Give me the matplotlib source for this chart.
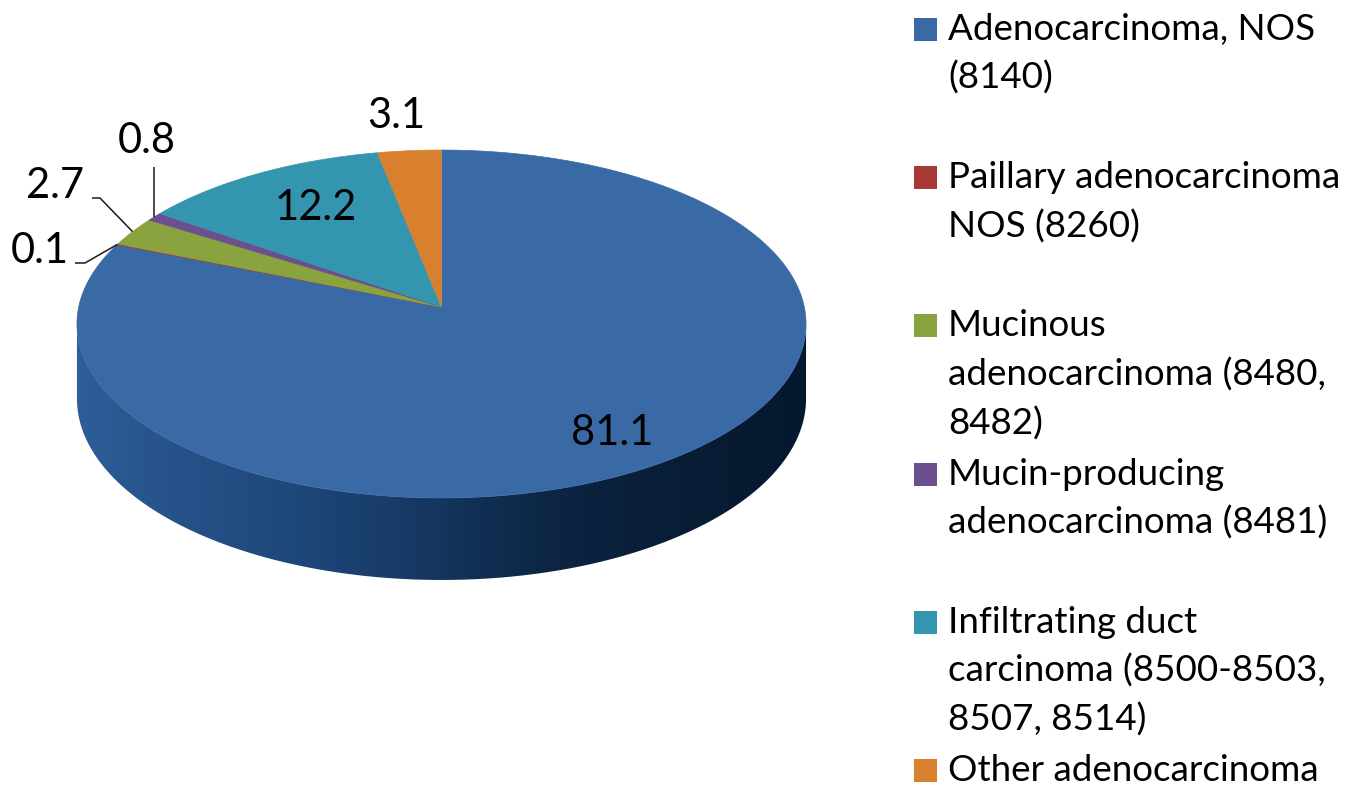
import numpy as np
import matplotlib
matplotlib.use("Agg")
import matplotlib.pyplot as plt
from matplotlib.patches import Polygon, Rectangle
from matplotlib.colors import to_rgb, rgb_to_hsv, hsv_to_rgb

plt.rcParams["font.family"] = ["Lato", "DejaVu Sans"]

# Histology groups, shares (%) and colours
categories = [
    "Adenocarcinoma, NOS (8140)",
    "Paillary adenocarcinoma NOS (8260)",
    "Mucinous adenocarcinoma (8480, 8482)",
    "Mucin-producing adenocarcinoma (8481)",
    "Infiltrating duct carcinoma (8500-8503, 8507, 8514)",
    "Other adenocarcinoma",
]
values = [81.1, 0.1, 2.7, 0.8, 12.2, 3.1]
value_labels = ["81.1", "0.1", "2.7", "0.8", "12.2", "3.1"]
colors = ["#3a6aa5", "#a83a36", "#89a43f", "#6c4f8d", "#3496ae", "#d9802f"]
legend_lines = [
    ["Adenocarcinoma, NOS", "(8140)"],
    ["Paillary adenocarcinoma", "NOS (8260)"],
    ["Mucinous", "adenocarcinoma (8480,", "8482)"],
    ["Mucin-producing", "adenocarcinoma (8481)"],
    ["Infiltrating duct", "carcinoma (8500-8503,", "8507, 8514)"],
    ["Other adenocarcinoma"],
]

# 3-D pie geometry (pixel space, y pointing down)
CX, CY = 441.5, 307.0      # apex of the pie
A, B = 362.8, 172.3        # horizontal / vertical radii of the top face
K = 0.0977                 # perspective strength
T = 74.0                   # thickness of the disc

W, H = 1366, 787
fig = plt.figure(figsize=(W / 100, H / 100), dpi=100)
ax = fig.add_axes([0, 0, 1, 1])
ax.set_xlim(0, W)
ax.set_ylim(H, 0)
ax.axis("off")


def proj(theta_deg, depth=0.0):
    """Screen position of a rim point; theta clockwise from 12 o'clock."""
    t = np.radians(theta_deg)
    u = np.sin(t)
    w = -np.cos(t)
    f = 1.0 / (1.0 - K * w)
    return CX + A * u * f, CY + B * w * f + T * f * depth


total = float(sum(values))
bounds = np.concatenate([[0.0], np.cumsum(values) / total * 360.0])

# Visible part of the side wall and its left-to-right shading
t_lo = np.degrees(np.arccos(-K))
t_hi = 360.0 - t_lo
x_right, _ = proj(t_lo)
x_left, _ = proj(t_hi)
shade_p = [0.0, 0.086, 0.27, 0.45, 0.635, 0.785, 1.0]
shade_v = [0.93, 0.86, 0.76, 0.62, 0.42, 0.34, 0.28]
shade_s = [0.05, 0.07, 0.10, 0.125, 0.16, 0.19, 0.22]


def wall_gradient(base, xs):
    p = np.clip((xs - x_left) / (x_right - x_left), 0, 1)
    h, s, v = rgb_to_hsv(np.array(to_rgb(base)))
    vv = v * np.interp(p, shade_p, shade_v)
    ss = np.minimum(1.0, s + np.interp(p, shade_p, shade_s))
    hsv = np.stack([np.full_like(p, h), ss, vv], axis=-1)
    return hsv_to_rgb(hsv)


wall_top = CY - 10
wall_bot = CY + B / (1 - K) + T / (1 - K) + 10
xs = np.arange(int(x_left) - 2, int(x_right) + 3) + 0.5
for i in range(len(values)):
    a0 = max(bounds[i], t_lo)
    a1 = min(bounds[i + 1], t_hi)
    if a1 <= a0:
        continue
    ts = np.linspace(a0, a1, max(2, int((a1 - a0) / 0.5) + 1))
    outline = [proj(t) for t in ts] + [proj(t, 1.0) for t in ts[::-1]]
    clip = Polygon(outline, closed=True, facecolor="none", edgecolor="none")
    ax.add_patch(clip)
    row = wall_gradient(colors[i], xs)
    img = np.repeat(row[None, :, :], 2, axis=0)
    im = ax.imshow(img, extent=(xs[0] - 0.5, xs[-1] + 0.5, wall_bot, wall_top),
                   aspect="auto", interpolation="bilinear", zorder=1)
    im.set_clip_path(clip)

# Top face wedges
for i, v in enumerate(values):
    a0, a1 = bounds[i], bounds[i + 1]
    n = max(2, int(np.ceil((a1 - a0) / 0.5)) + 1)
    ts = np.linspace(a0, a1, n)
    pts = [(CX, CY)] + [proj(t) for t in ts]
    ax.add_patch(Polygon(pts, closed=True, facecolor=colors[i],
                         edgecolor=colors[i], linewidth=0.5, zorder=2))

ax.set_xlim(0, W)
ax.set_ylim(H, 0)

LABEL_FS = 30
# Data labels on the large slices
label_pos = {
    "81.1": (612, 445),
    "12.2": (316, 220),
    "3.1": (396, 128),
}
for lab in ["81.1", "12.2", "3.1"]:
    x, y = label_pos[lab]
    ax.text(x, y, lab, fontsize=LABEL_FS, ha="center", va="baseline",
            color="black", zorder=5)

# Small slices get labels with leader lines
mids = 0.5 * (bounds[:-1] + bounds[1:])
lc = "#1a1a1a"
# 0.1 (Paillary)
ex, ey = proj(mids[1])
ax.plot([75, 85, ex], [263, 263, ey], color=lc, lw=1.1, zorder=4,
        solid_capstyle="butt")
ax.text(40, 263, value_labels[1], fontsize=LABEL_FS, ha="center", va="baseline")
# 2.7 (Mucinous)
ex, ey = proj(mids[2])
ax.plot([92, 100, ex], [198, 198, ey], color=lc, lw=1.1, zorder=4,
        solid_capstyle="butt")
ax.text(55, 198, value_labels[2], fontsize=LABEL_FS, ha="center", va="baseline")
# 0.8 (Mucin-producing)
ex, ey = proj(mids[3])
ax.plot([ex, ex], [167, ey], color=lc, lw=1.1, zorder=4,
        solid_capstyle="butt")
ax.text(147, 153, value_labels[3], fontsize=LABEL_FS, ha="center", va="baseline")

# Legend
for i, lines in enumerate(legend_lines):
    base = 40 + 148.2 * i
    ax.add_patch(Rectangle((914, base - 22), 23, 23, facecolor=colors[i],
                           edgecolor="none", zorder=3))
    for j, line in enumerate(lines):
        ax.text(948, base + 49 * j, line, fontsize=26.5, ha="left",
                va="baseline", color="black")

fig.savefig("out.png", dpi=100, facecolor="white")
